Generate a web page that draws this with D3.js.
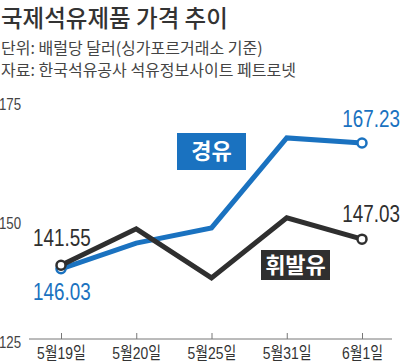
<!DOCTYPE html>
<html>
<head>
<meta charset="utf-8">
<script src="https://cdn.jsdelivr.net/npm/d3@7"></script>
<style>
  body { margin: 0; background: #fff; }
  svg { display: block; }
</style>
</head>
<body>
<script>
// chart data
var dates = ["5월19일", "5월20일", "5월25일", "5월31일", "6월1일"];
var diesel = [140.8, 146.2, 149.4, 168.3, 167.23];      // 경유
var gasoline = [141.55, 149.2, 138.9, 151.5, 147.03];   // 휘발유
var yTicks = [125, 150, 175];
var dieselLabels = ["146.03", "167.23"];
var gasolineLabels = ["141.55", "147.03"];

var svgWidth = 400;
var svgHeight = 362;

var blue = "#1a72c0";
var dark = "#2f2f2f";
var numFont = "'Liberation Sans', Arial, 'Noto Sans CJK KR', sans-serif";
var krFont = "'Noto Sans CJK KR', sans-serif";
var squeeze = 0.82; // condensed look

var svg = d3.select("body")
  .append("svg")
  .attr("width", svgWidth)
  .attr("height", svgHeight);

// title + notes
svg.append("text")
  .attr("x", 1).attr("y", 27)
  .attr("font-family", krFont)
  .attr("font-size", 23.5)
  .attr("font-weight", 500)
  .attr("fill", "#333")
  .text("국제석유제품 가격 추이");

svg.append("text")
  .attr("x", 1).attr("y", 54)
  .attr("font-family", krFont)
  .attr("font-size", 16)
  .attr("fill", "#444")
  .text("단위: 배럴당 달러(싱가포르거래소 기준)");

svg.append("text")
  .attr("x", 1).attr("y", 76)
  .attr("font-family", krFont)
  .attr("font-size", 16)
  .attr("fill", "#444")
  .text("자료: 한국석유공사 석유정보사이트 페트로넷");

// scales
var x = d3.scalePoint().domain(dates).range([61, 362]);
var y = d3.scaleLinear().domain([125, 175]).range([344, 106]);

// y tick labels
svg.append("g")
  .selectAll("text")
  .data(yTicks)
  .enter()
  .append("text")
  .attr("transform", d => `translate(21, ${y(d) - 2}) scale(0.78, 1)`)
  .attr("dy", "0.35em")
  .attr("text-anchor", "end")
  .attr("font-family", numFont)
  .attr("font-size", 17)
  .attr("fill", "#444")
  .text(d => d);

// x axis
var axisY = 339;
svg.append("line")
  .attr("x1", 29).attr("x2", 392)
  .attr("y1", axisY).attr("y2", axisY)
  .attr("stroke", "#777").attr("stroke-width", 1);

var xAxis = svg.append("g")
  .attr("transform", `translate(0, ${axisY})`)
  .call(d3.axisBottom(x).tickSize(-6).tickSizeOuter(0));
xAxis.select(".domain").remove();
xAxis.selectAll(".tick line").attr("stroke", "#777");
xAxis.selectAll(".tick text")
  .attr("y", 0)
  .attr("dy", 0)
  .attr("transform", `translate(0, 20) scale(${squeeze}, 1)`)
  .attr("font-family", numFont)
  .attr("font-size", 17)
  .attr("fill", "#333");

// lines
var line = d3.line()
  .x((d, i) => x(dates[i]))
  .y(d => y(d));

function drawSeries(values, color) {
  svg.append("path")
    .datum(values)
    .attr("d", line)
    .attr("fill", "none")
    .attr("stroke", color)
    .attr("stroke-width", 5)
    .attr("stroke-linejoin", "miter");

  var ends = [0, values.length - 1];
  svg.selectAll(null)
    .data(ends)
    .enter()
    .append("circle")
    .attr("cx", i => x(dates[i]))
    .attr("cy", i => y(values[i]))
    .attr("r", 4.5)
    .attr("fill", "#fff")
    .attr("stroke", color)
    .attr("stroke-width", 2.5);
}

drawSeries(diesel, blue);
drawSeries(gasoline, dark);

// value labels
function valueLabel(px, py, anchor, color, txt) {
  svg.append("text")
    .attr("transform", `translate(${px}, ${py}) scale(${squeeze}, 1)`)
    .attr("text-anchor", anchor)
    .attr("font-family", numFont)
    .attr("font-size", 23)
    .attr("fill", color)
    .text(txt);
}
valueLabel(x(dates[0]) - 28, y(diesel[0]) + 31, "start", blue, dieselLabels[0]);
valueLabel(x(dates[4]) + 38, y(diesel[4]) - 16, "end", blue, dieselLabels[1]);
valueLabel(x(dates[0]) - 28, y(gasoline[0]) - 19, "start", dark, gasolineLabels[0]);
valueLabel(x(dates[4]) + 38, y(gasoline[4]) - 17, "end", dark, gasolineLabels[1]);

// legend boxes
function legendBox(bx, by, w, h, color, label) {
  svg.append("rect")
    .attr("x", bx).attr("y", by)
    .attr("width", w).attr("height", h)
    .attr("fill", color);
  svg.append("text")
    .attr("x", bx + w / 2).attr("y", by + h / 2)
    .attr("dy", "0.36em")
    .attr("text-anchor", "middle")
    .attr("font-family", krFont)
    .attr("font-size", 22)
    .attr("font-weight", 700)
    .attr("fill", "#fff")
    .text(label);
}
legendBox(177, 133, 69, 37, blue, "경유");
legendBox(261, 250, 69, 30, dark, "휘발유");
</script>
</body>
</html>
